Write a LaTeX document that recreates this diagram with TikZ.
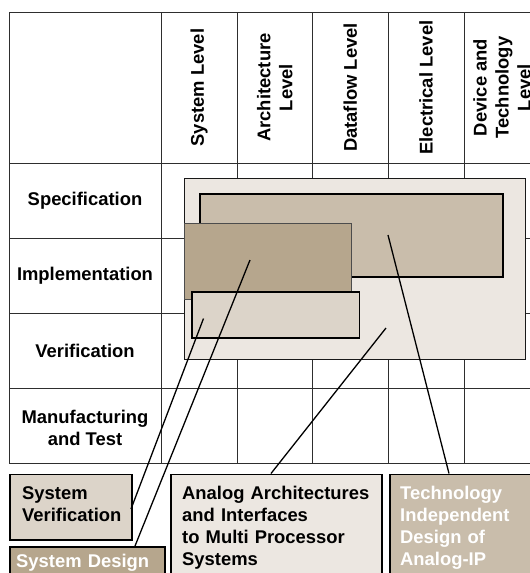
\documentclass[tikz,border=0pt]{standalone}
\usepackage{fontspec}
\setmainfont{Liberation Sans}
\definecolor{paleground}{HTML}{ECE7E1}
\definecolor{techtan}{HTML}{C9BDAB}
\definecolor{designtan}{HTML}{B6A68D}
\definecolor{veriftan}{HTML}{DCD4C9}
\definecolor{gridline}{HTML}{2E2E2E}
\begin{document}
\begin{tikzpicture}[x=1pt,y=-1pt,
  font=\fontsize{18.4}{22}\selectfont\bfseries,
  gridrule/.style={draw=gridline, line width=0.9pt},
  collabel/.style={rotate=90, align=center, inner sep=0pt},
  rowlabel/.style={align=center, inner sep=0pt},
  area/.style={draw=black, line width=1.5pt, inner sep=0pt, anchor=north west},
  pointer/.style={draw=black, line width=1.3pt},
  boxtext/.style={anchor=base west, align=left, inner sep=0pt, text width=200pt}]
\clip (0,0) rectangle (530,573);
\fill[white] (0,0) rectangle (530,573);

% table grid
\foreach \x in {9,161,237,312.5,388,464}
  \draw[gridrule] (\x,12) -- (\x,463);
\foreach \y in {12,163,238,313,388,463}
  \draw[gridrule] (9,\y) -- (545,\y);

% column headers
\node[collabel] (hsys)  at (199,87.5)    {System Level};
\node[collabel] (harch) at (274.75,87.5) {Architecture\\Level};
\node[collabel] (hflow) at (350.25,87.5) {Dataflow Level};
\node[collabel] (helec) at (426,87.5)    {Electrical Level};
\node[collabel] (hdev)  at (502,87.5)    {Device and\\Technology\\Level};

% row headers
\node[rowlabel] (rspec) at (85,200.5) {Specification};
\node[rowlabel] (rimpl) at (85,275.5) {Implementation};
\node[rowlabel] (rverf) at (85,350.5) {Verification};
\node[rowlabel] (rmanu) at (85,427.5) {Manufacturing\\and Test};

% covered areas
\node[area, fill=paleground, draw=black!90, minimum width=341pt, minimum height=181pt] (analog) at (183.5,177.5) {};
\node[area, fill=techtan, minimum width=303pt, minimum height=83pt] (techip) at (199,193) {};
\node[area, fill=designtan, draw=black!70, line width=0.8pt, minimum width=167pt, minimum height=76pt] (sysdes) at (183.5,223) {};
\node[area, fill=veriftan, minimum width=167.5pt, minimum height=46pt] (sysver) at (191,291) {};

% legend boxes
\node[area, fill=veriftan, minimum width=122pt, minimum height=65.5pt] (lsysver) at (9,473.5) {};
\node[area, fill=designtan, minimum width=155pt, minimum height=60pt] (lsysdes) at (9,546) {};
\node[area, fill=paleground, minimum width=211pt, minimum height=130pt] (lanalog) at (170,473.5) {};
\node[area, fill=techtan, minimum width=180pt, minimum height=130pt] (ltechip) at (389,473.5) {};

\node[boxtext] (tsysver) at (22,499) {System\\Verification};
\node[boxtext, text=white] (tsysdes) at (16,567) {System Design};
\node[boxtext] (tanalog) at (182,499) {Analog Architectures\\and Interfaces\\to Multi Processor\\Systems};
\node[boxtext, text=white] (ttechip) at (400,499) {Technology\\Independent\\Design of\\Analog-IP};

% pointer lines
\coordinate (ptech) at (388,235);
\coordinate (pdes) at (250,260);
\coordinate (pver) at (203.5,318.5);
\coordinate (pana) at (386,328);
\coordinate (etech) at (449,473.5);
\coordinate (edes) at (135,546);
\coordinate (ever) at (131,509);
\coordinate (eana) at (271,473.5);
\draw[pointer] (ptech) -- (etech);
\draw[pointer] (pdes) -- (edes);
\draw[pointer] (pver) -- (ever);
\draw[pointer] (pana) -- (eana);
\end{tikzpicture}
\end{document}
